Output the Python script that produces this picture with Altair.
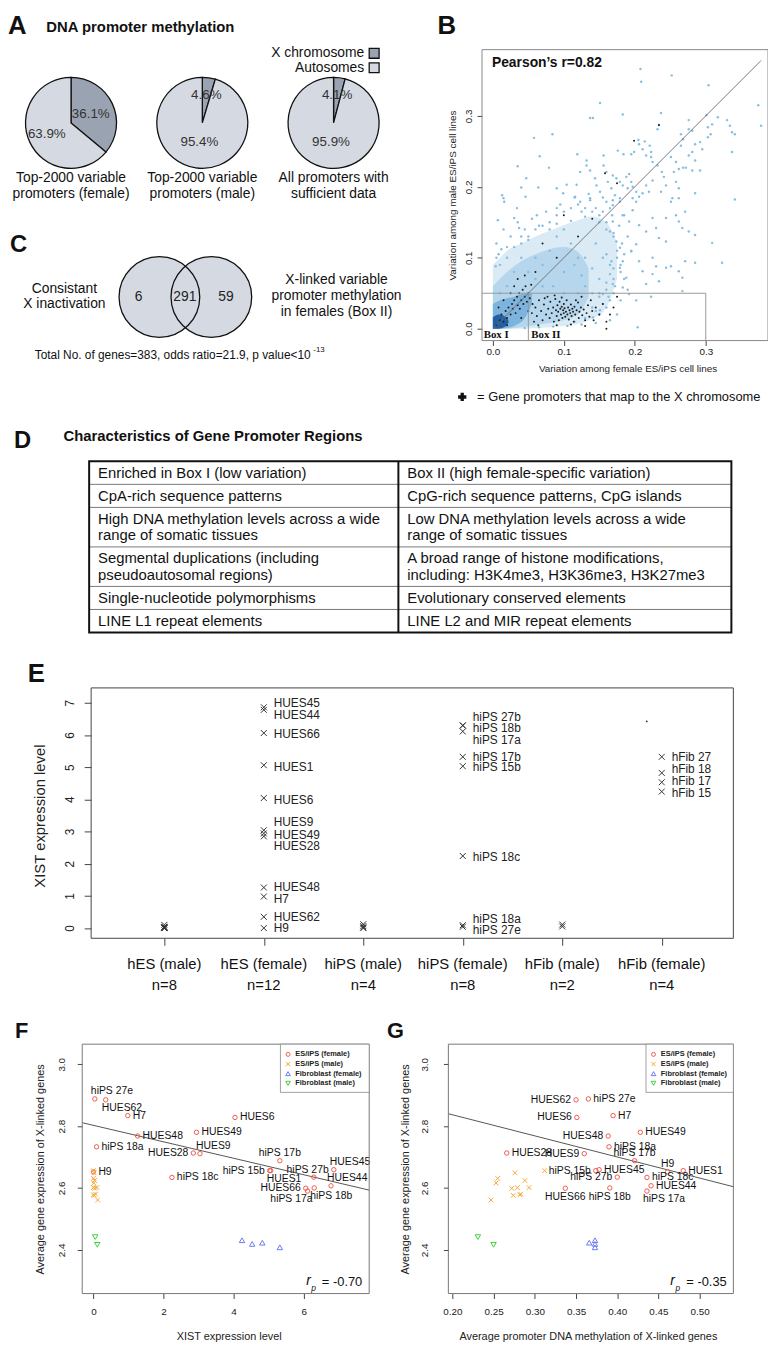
import altair as alt
import pandas as pd

FONT = "Liberation Sans"
SERIF = "Liberation Serif"
OFF = 8
W, H = 768, 1345


def R(v):
    return v - OFF


# ============================ DATA ============================
# --- Panel A: share of promoters on the X chromosome (%)
PARTS = ["X chromosome", "Autosomes"]
PART_COLORS = ["#9aa3b1", "#d5dae2"]
PIE_X_PCT = [36.1, 4.6, 4.1]
PIE_AUTO_PCT = [63.9, 95.4, 95.9]
PIE_CAPTION_TOP = ["Top-2000 variable", "Top-2000 variable", "All promoters with"]
PIE_CAPTION_BOTTOM = ["promoters (female)", "promoters (male)", "sufficient data"]

# --- Panel B: variation female (x) vs male (y)
B_PEARSON = 0.82
B_SPARSE = [
    (0.208, 0.366), (0.209, 0.348), (0.252, 0.357), (0.304, 0.343), (0.374, 0.315), (0.378, 0.286),
    (0.151, 0.318), (0.137, 0.297), (0.141, 0.297), (0.183, 0.302), (0.237, 0.304), (0.234, 0.287),
    (0.232, 0.281), (0.276, 0.294), (0.317, 0.298), (0.301, 0.301), (0.330, 0.294), (0.334, 0.286),
    (0.337, 0.277), (0.341, 0.274), (0.309, 0.288), (0.303, 0.284), (0.307, 0.274), (0.303, 0.270),
    (0.058, 0.269), (0.084, 0.274), (0.066, 0.243), (0.035, 0.229), (0.079, 0.227), (0.047, 0.212),
    (0.040, 0.199), (0.064, 0.199), (0.104, 0.203), (0.119, 0.246), (0.132, 0.237), (0.123, 0.221),
    (0.090, 0.198), (0.118, 0.203), (0.013, 0.188), (0.015, 0.184), (0.016, 0.179), (0.156, 0.244),
    (0.156, 0.230), (0.160, 0.221), (0.176, 0.251), (0.184, 0.246), (0.195, 0.246), (0.199, 0.249),
    (0.205, 0.266), (0.206, 0.260), (0.214, 0.264), (0.221, 0.258), (0.223, 0.249), (0.223, 0.242),
    (0.225, 0.235), (0.211, 0.253), (0.216, 0.244), (0.169, 0.216), (0.174, 0.212), (0.179, 0.207),
    (0.183, 0.202), (0.188, 0.214), (0.192, 0.218), (0.195, 0.207), (0.197, 0.200), (0.190, 0.198),
    (0.202, 0.193), (0.206, 0.186), (0.211, 0.191), (0.216, 0.202), (0.220, 0.193), (0.232, 0.230),
    (0.238, 0.221), (0.241, 0.214), (0.244, 0.202), (0.251, 0.242), (0.258, 0.235), (0.262, 0.225),
    (0.255, 0.221), (0.265, 0.274), (0.265, 0.258), (0.268, 0.267), (0.281, 0.279), (0.276, 0.281),
    (0.285, 0.260), (0.292, 0.263), (0.295, 0.253), (0.276, 0.244), (0.281, 0.249), (0.285, 0.237),
    (0.268, 0.227), (0.272, 0.227), (0.281, 0.223), (0.258, 0.207), (0.262, 0.198), (0.285, 0.191),
    (0.292, 0.223), (0.337, 0.249), (0.341, 0.182), (0.251, 0.179), (0.237, 0.193), (0.225, 0.209),
    (0.132, 0.230), (0.137, 0.223), (0.144, 0.212), (0.146, 0.202), (0.151, 0.193), (0.162, 0.207),
    (0.167, 0.198), (0.172, 0.188), (0.099, 0.191), (0.116, 0.186), (0.137, 0.181), (0.169, 0.181),
    (0.179, 0.179), (0.197, 0.184), (0.202, 0.179),
    (0.046, 0.186), (0.262, 0.184), (0.253, 0.184), (0.271, 0.165), (0.258, 0.160), (0.244, 0.156),
    (0.225, 0.156), (0.230, 0.142), (0.206, 0.146), (0.216, 0.137), (0.234, 0.128), (0.244, 0.123),
    (0.262, 0.151), (0.267, 0.142), (0.276, 0.137), (0.285, 0.132), (0.309, 0.121), (0.323, 0.093),
    (0.271, 0.095), (0.285, 0.093), (0.262, 0.081), (0.267, 0.072), (0.251, 0.088), (0.244, 0.086),
    (0.225, 0.100), (0.230, 0.088), (0.206, 0.095), (0.211, 0.081), (0.225, 0.077), (0.234, 0.067),
    (0.216, 0.063), (0.267, 0.053), (0.223, 0.045), (0.204, 0.002), (0.192, 0.049), (0.202, 0.040),
    (0.183, 0.058), (0.188, 0.072), (0.179, 0.086), (0.183, 0.095), (0.202, 0.119), (0.195, 0.109),
    (0.034, 0.170), (0.037, 0.142), (0.030, 0.156), (0.007, 0.153), (0.004, 0.088), (0.062, 0.160),
    (0.090, 0.170), (0.123, 0.179), (0.137, 0.184), (0.160, 0.179), (0.169, 0.174), (0.179, 0.184),
    (0.183, 0.160), (0.192, 0.151), (0.197, 0.167), (0.169, 0.151), (0.165, 0.137), (0.174, 0.123),
    (0.179, 0.114), (0.160, 0.105), (0.167, 0.095), (0.165, 0.077), (0.169, 0.063), (0.155, 0.049),
    (0.165, 0.040), (0.151, 0.026), (0.141, 0.016),
]
B_DENSE = [
    (0.010, 0.090), (0.020, 0.100), (0.030, 0.115), (0.040, 0.120), (0.050, 0.130), (0.060, 0.140),
    (0.070, 0.145), (0.080, 0.150), (0.090, 0.160), (0.100, 0.165), (0.110, 0.170), (0.120, 0.175),
    (0.130, 0.170), (0.140, 0.165), (0.150, 0.150), (0.160, 0.140), (0.170, 0.130), (0.175, 0.110),
    (0.180, 0.090), (0.170, 0.070), (0.160, 0.055), (0.150, 0.045), (0.140, 0.050), (0.130, 0.060),
    (0.125, 0.075), (0.120, 0.100), (0.110, 0.120), (0.100, 0.140), (0.090, 0.130), (0.080, 0.110),
    (0.070, 0.090), (0.060, 0.070), (0.050, 0.080), (0.040, 0.100), (0.030, 0.080), (0.020, 0.060),
    (0.010, 0.050), (0.085, 0.060), (0.100, 0.080), (0.115, 0.090), (0.130, 0.100), (0.145, 0.120),
    (0.155, 0.100), (0.140, 0.085), (0.165, 0.090), (0.150, 0.070), (0.170, 0.050), (0.180, 0.040),
    (0.160, 0.030), (0.150, 0.020), (0.120, 0.050), (0.100, 0.050), (0.070, 0.060), (0.060, 0.100),
    (0.045, 0.140), (0.025, 0.130), (0.035, 0.150), (0.055, 0.155), (0.075, 0.165), (0.095, 0.175),
    (0.115, 0.185), (0.135, 0.190), (0.155, 0.185), (0.165, 0.170), (0.185, 0.160), (0.190, 0.130),
    (0.195, 0.110), (0.005, 0.120), (0.015, 0.140), (0.008, 0.105), (0.185, 0.070), (0.190, 0.055),
    (0.175, 0.020), (0.165, 0.012), (0.145, 0.008), (0.125, 0.006), (0.105, 0.004), (0.085, 0.003),
    (0.065, 0.002), (0.045, 0.001),
    (0.020, 0.115), (0.050, 0.125), (0.080, 0.140), (0.110, 0.152), (0.130, 0.158), (0.150, 0.160),
    (0.160, 0.150), (0.170, 0.135), (0.175, 0.100), (0.170, 0.085), (0.160, 0.065), (0.150, 0.050),
    (0.140, 0.030), (0.130, 0.015), (0.115, 0.010), (0.005, 0.100), (0.012, 0.112), (0.040, 0.130),
    (0.065, 0.145), (0.090, 0.148), (0.125, 0.165), (0.145, 0.170), (0.155, 0.165), (0.168, 0.160),
    (0.178, 0.145), (0.182, 0.120), (0.185, 0.105), (0.180, 0.080), (0.172, 0.060), (0.163, 0.045),
    (0.155, 0.035), (0.145, 0.025),
]
B_XCHR = [
    (0.060, 0.030), (0.062, 0.018), (0.065, 0.040), (0.068, 0.025), (0.070, 0.012), (0.072, 0.034),
    (0.075, 0.020), (0.077, 0.045), (0.078, 0.028), (0.080, 0.015), (0.081, 0.038), (0.083, 0.022),
    (0.085, 0.030), (0.086, 0.010), (0.088, 0.042), (0.089, 0.026), (0.090, 0.018), (0.091, 0.033),
    (0.092, 0.024), (0.093, 0.012), (0.094, 0.038), (0.095, 0.028), (0.096, 0.020), (0.097, 0.031),
    (0.098, 0.015), (0.099, 0.026), (0.100, 0.022), (0.100, 0.035), (0.101, 0.029), (0.102, 0.017),
    (0.103, 0.024), (0.104, 0.040), (0.105, 0.020), (0.106, 0.030), (0.107, 0.013), (0.108, 0.026),
    (0.109, 0.022), (0.110, 0.034), (0.111, 0.018), (0.112, 0.028), (0.113, 0.024), (0.114, 0.010),
    (0.115, 0.031), (0.116, 0.020), (0.118, 0.026), (0.120, 0.037), (0.121, 0.015), (0.122, 0.024),
    (0.124, 0.030), (0.126, 0.019), (0.128, 0.027), (0.130, 0.012), (0.132, 0.022), (0.134, 0.033),
    (0.136, 0.017), (0.140, 0.025), (0.142, 0.012), (0.145, 0.030), (0.150, 0.020), (0.055, 0.022),
    (0.058, 0.010), (0.064, 0.005), (0.073, 0.043), (0.087, 0.047), (0.097, 0.044), (0.117, 0.040),
    (0.125, 0.045), (0.138, 0.040), (0.155, 0.035), (0.160, 0.010), (0.170, 0.030), (0.175, 0.045),
    (0.165, 0.020), (0.090, 0.005), (0.110, 0.006), (0.130, 0.004),
    (0.005, 0.005), (0.010, 0.012), (0.012, 0.020), (0.015, 0.010), (0.018, 0.025), (0.020, 0.015),
    (0.022, 0.030), (0.025, 0.020), (0.027, 0.035), (0.028, 0.028), (0.030, 0.040), (0.032, 0.022),
    (0.034, 0.045), (0.035, 0.033), (0.037, 0.050), (0.038, 0.028), (0.040, 0.040), (0.042, 0.055),
    (0.043, 0.035), (0.045, 0.045), (0.046, 0.060), (0.048, 0.038), (0.050, 0.050), (0.052, 0.043),
    (0.054, 0.062), (0.056, 0.035), (0.030, 0.060), (0.025, 0.050), (0.035, 0.070), (0.045, 0.075),
    (0.060, 0.080), (0.015, 0.040), (0.020, 0.005), (0.040, 0.015), (0.008, 0.030), (0.050, 0.025),
    (0.199, 0.265), (0.158, 0.219), (0.234, 0.287), (0.175, 0.205), (0.120, 0.130), (0.090, 0.100),
    (0.140, 0.155), (0.100, 0.160), (0.070, 0.120), (0.160, 0.000),
]
# density envelope of the crowded cloud: x, lower y, upper y
B_CLOUD_OUTER = ([0.000, 0.010, 0.020, 0.040, 0.060, 0.080, 0.100, 0.120, 0.140, 0.160, 0.175],
                 [0.000, 0.000, 0.000, 0.000, 0.001, 0.002, 0.004, 0.007, 0.014, 0.030, 0.070],
                 [0.090, 0.100, 0.110, 0.120, 0.130, 0.138, 0.146, 0.153, 0.158, 0.150, 0.120])
B_CLOUD_INNER = ([0.000, 0.020, 0.040, 0.060, 0.080, 0.100, 0.120, 0.135],
                 [0.000, 0.000, 0.002, 0.005, 0.008, 0.012, 0.020, 0.045],
                 [0.060, 0.080, 0.095, 0.105, 0.112, 0.115, 0.108, 0.085])
B_CLOUD_CORE = ([0.000, 0.010, 0.020, 0.030, 0.045, 0.055],
                [0.000, 0.000, 0.001, 0.004, 0.015, 0.035],
                [0.035, 0.040, 0.043, 0.045, 0.050, 0.050])
B_CLOUD_PEAK = ([0.000, 0.008, 0.016, 0.022],
                [0.000, 0.000, 0.002, 0.008],
                [0.016, 0.020, 0.018, 0.012])
B_DIAG = [0.0, 0.378]
B_BOX_TOP = 0.05
B_BOX_RIGHT = [0.05, 0.30]
B_BOX_NAMES = ["Box  I", "Box  II"]
B_BOX_LABEL_X = [-0.013, 0.054]

# --- Panel C: Venn
VENN_COUNTS = [6, 291, 59]
VENN_COUNT_POS = [-0.40, 0.49, 1.28]
VENN_LEFT_LABEL = ["Consistant", "X inactivation"]
VENN_RIGHT_LABEL = ["X-linked variable", "promoter methylation", "in females (Box II)"]
TOTAL_GENES = 383
ODDS_RATIO = 21.9
P_EXPONENT = -13

# --- Panel D: table
D_TITLE = "Characteristics of Gene Promoter Regions"
D_LEFT = [["Enriched in Box I (low variation)"],
          ["CpA-rich sequence patterns"],
          ["High DNA methylation levels across a wide", "range of somatic tissues"],
          ["Segmental duplications (including", "pseudoautosomal regions)"],
          ["Single-nucleotide polymorphisms"],
          ["LINE L1 repeat elements"]]
D_RIGHT = [["Box II (high female-specific variation)"],
           ["CpG-rich sequence patterns, CpG islands"],
           ["Low DNA methylation levels across a wide", "range of somatic tissues"],
           ["A broad range of histone modifications,", "including: H3K4me3, H3K36me3, H3K27me3"],
           ["Evolutionary conserved elements"],
           ["LINE L2 and MIR repeat elements"]]
D_COL_SPLIT = 0.4815

# --- Panels E, F, G
E_GROUPS = ["hES (male)", "hES (female)", "hiPS (male)", "hiPS (female)", "hFib (male)", "hFib (female)"]
E_N = [8, 12, 4, 8, 2, 4]

FEMALE_NAMES = ["hiPS 27e", "HUES62", "H7", "HUES6", "HUES49", "HUES48", "hiPS 18a", "HUES28", "HUES9",
                "hiPS 17b", "hiPS 15b", "HUES1", "HUES45", "hiPS 27b", "HUES44", "hiPS 18c", "H9",
                "HUES66", "hiPS 17a", "hiPS 18b"]
FEMALE_XIST = [0.04, 0.35, 0.98, 4.04, 2.94, 1.26, 0.09, 2.85, 3.04, 5.32, 5.03, 5.06, 6.86, 6.29, 6.78,
               2.24, 0.00, 6.06, 6.11, 6.30]
FEMALE_EXPR = [2.888, 2.885, 2.834, 2.828, 2.780, 2.768, 2.733, 2.713, 2.711, 2.688, 2.656, 2.656, 2.659,
               2.635, 2.607, 2.634, 2.652, 2.599, 2.590, 2.600]
FEMALE_METH = [0.365, 0.350, 0.395, 0.351, 0.428, 0.389, 0.390, 0.266, 0.360, 0.421, 0.374, 0.480, 0.378,
               0.400, 0.441, 0.436, 0.461, 0.337, 0.436, 0.391]
E_LABEL_Y = [-0.07, 0.34, 0.90, 3.99, 2.90, 1.28, 0.29, 2.56, 3.28, 5.32, 5.00, 5.00, 7.00, 6.56, 6.63,
             2.20, 0.00, 6.02, 5.84, 6.20]
F_LABEL_POS = ["tr", "br", "r", "r", "r", "r", "r", "l", "tr", "t", "l", "br", "tr", "tl", "tr", "r", "r",
               "l", "bl", "br"]
G_LABEL_POS = ["r", "l", "r", "l", "r", "l", "r", "r", "l", "t", "l", "r", "r", "l", "r", "r", "t", "b",
               "br", "b"]

MALE_XIST = [0.00, 0.02, 0.00, 0.03, 0.01, 0.10, 0.00, 0.04, 0.06, 0.00, 0.02, 0.12]  # 8 hES + 4 hiPS
MALE_EXPR = [2.656, 2.649, 2.631, 2.624, 2.616, 2.601, 2.601, 2.599, 2.580, 2.578, 2.576, 2.561]
MALE_METH = [0.312, 0.276, 0.255, 0.288, 0.253, 0.279, 0.293, 0.272, 0.283, 0.282, 0.274, 0.247]

FIBF_NAMES = ["hFib 27", "hFib 18", "hFib 17", "hFib 15"]
FIBF_XIST = [5.32, 4.82, 4.53, 4.24]
FIBF_EXPR = [2.408, 2.423, 2.419, 2.431]
FIBF_METH = [0.373, 0.366, 0.373, 0.373]
FIBF_LABEL_Y = [5.30, 4.94, 4.57, 4.18]

FIBM_XIST = [0.05, 0.11]
FIBM_EXPR = [2.441, 2.416]
FIBM_METH = [0.231, 0.250]

E_STRAY = (5.85, 6.42)

F_FIT_X = [-0.32, 7.87]
F_FIT_Y = [2.811, 2.593]
G_FIT_X = [0.1952, 0.5408]
G_FIT_Y = [2.840, 2.604]
F_RP = -0.70
G_RP = -0.35
LEGEND_LABELS = ["ES/iPS (female)", "ES/iPS (male)", "Fibroblast (female)", "Fibroblast (male)"]

# ============================ HELPERS ============================
XSHAPE = "M-1,-1L1,1M-1,1L1,-1"
RED, ORANGE, BLUE, GREEN = "#ef5a4f", "#f5a83a", "#6a7bf2", "#3fcf3f"


def lin(domain, r0, r1):
    return alt.Scale(domain=domain, range=[R(r0), R(r1)], nice=False, zero=False)


def txt(text, x, y, size=12, weight="normal", align="left", baseline="middle", font=FONT,
        color="#111", style="normal"):
    return alt.Chart(pd.DataFrame({"t": [text]})).mark_text(
        align=align, baseline=baseline, fontSize=size, fontWeight=weight, font=font,
        color=color, fontStyle=style
    ).encode(x=alt.value(R(x)), y=alt.value(R(y)), text="t:N")


AX = dict(domain=False, grid=False, labelFlush=False, labelOverlap=False, minExtent=0,
          tickColor="#444", labelColor="#222", titleColor="#222", titleFontWeight="normal",
          labelFont=FONT, titleFont=FONT, titleAlign="center", titleBaseline="middle")


def xaxis(bottom, values, fmt, title, title_x, title_y, tick=5, pad=6, lsize=10, tsize=11):
    return alt.Axis(orient="bottom", offset=R(bottom) - H, values=values, format=fmt, title=title,
                    titleX=R(title_x), titleY=title_y - bottom, tickSize=tick, labelPadding=pad,
                    labelFontSize=lsize, titleFontSize=tsize, labelBaseline="middle", **AX)


def yaxis(left, values, fmt, title, title_x, title_y, tick=5, pad=9, lsize=10, tsize=11):
    return alt.Axis(orient="left", offset=-R(left), values=values, format=fmt, title=title,
                    titleX=title_x - left, titleY=R(title_y), titleAngle=270, tickSize=tick,
                    labelPadding=pad, labelFontSize=lsize, titleFontSize=tsize, labelAngle=270,
                    labelAlign="center", labelBaseline="middle", **AX)


def frame(XS, YS, xd, yd, xax, yax, color="#666", width=1.0):
    df = pd.DataFrame({"x0": [xd[0]], "x1": [xd[1]], "y0": [yd[0]], "y1": [yd[1]]})
    return alt.Chart(df).mark_rect(fillOpacity=0, stroke=color, strokeWidth=width).encode(
        x=alt.X("x0:Q", scale=XS, axis=xax), x2="x1",
        y=alt.Y("y0:Q", scale=YS, axis=yax), y2="y1")


def pts_df(pairs):
    return pd.DataFrame({"x": [p[0] for p in pairs], "y": [p[1] for p in pairs]})


layers = []

# ============================ PANEL A ============================
A_X = lin([0, 2], 71.7, 337)
A_Y = lin([0, 1], 117, 17)
THETA = alt.Scale(domain=[0, 100])
pie_rows = []
for i, (xp, ap) in enumerate(zip(PIE_X_PCT, PIE_AUTO_PCT)):
    pie_rows.append({"pie": i, "row": 0, "part": PARTS[0], "pct": xp, "ord": 0})
    pie_rows.append({"pie": i, "row": 0, "part": PARTS[1], "pct": ap, "ord": 1})
pie_df = pd.DataFrame(pie_rows)

label_radius = {0: (22, 27), 1: (28, 20), 2: (28, 20)}
for i in range(3):
    layers.append(
        alt.Chart(pie_df).transform_filter(alt.datum.pie == i)
        .mark_arc(outerRadius=46, stroke="#111", strokeWidth=1.3)
        .encode(x=alt.X("pie:Q", scale=A_X, axis=None),
                y=alt.Y("row:Q", scale=A_Y, axis=None),
                theta=alt.Theta("pct:Q", stack=True, scale=THETA),
                order=alt.Order("ord:Q"),
                color=alt.Color("part:N", scale=alt.Scale(domain=PARTS, range=PART_COLORS), legend=None))
    )
    for k in range(2):
        layers.append(
            alt.Chart(pie_df).transform_filter(alt.datum.pie == i)
            .transform_stack(stack="pct", groupby=["pie"], as_=["s0", "s1"], sort=[alt.SortField("ord")])
            .transform_calculate(mid="(datum.s0 + datum.s1) / 2",
                                 label="format(datum.pct, '.1f') + '%'")
            .transform_filter(alt.datum.ord == k)
            .mark_text(radius=label_radius[i][k], fontSize=13.5, color="#333")
            .encode(x=alt.X("pie:Q", scale=A_X, axis=None),
                    y=alt.Y("row:Q", scale=A_Y, axis=None),
                    theta=alt.Theta("mid:Q", scale=THETA, stack=False),
                    text="label:N")
        )
cap_df = pd.DataFrame({"pie": [0, 1, 2], "top": PIE_CAPTION_TOP, "bot": PIE_CAPTION_BOTTOM})
for col, yy in [("top", 172.7), ("bot", 189.3)]:
    layers.append(alt.Chart(cap_df).mark_text(fontSize=14, color="#111", align="center").encode(
        x=alt.X("pie:Q", scale=A_X, axis=None), y=alt.value(R(yy)), text=f"{col}:N"))
for k, (part, col) in enumerate(zip(PARTS, PART_COLORS)):
    yy = [46.7, 61.3][k]
    layers.append(alt.Chart(pd.DataFrame({"p": [part]})).mark_square(
        size=100, color=col, stroke="#111", strokeWidth=1.3, opacity=1).encode(
        x=alt.value(R(378)), y=alt.value(R(yy))))
    layers.append(txt(part, 368, yy, size=14, align="right"))
layers.append(txt("A", 8, 27, size=26, weight="bold", baseline="alphabetic"))
layers.append(txt("DNA promoter methylation", 46.7, 20, size=15, weight="bold"))

# ============================ PANEL B ============================
B_XD = [-0.0153, 0.3877]
B_YD = [-0.0167, 0.3933]
B_X = lin(B_XD, 487, 776)
B_Y = lin(B_YD, 337, 43)
for (cx, lo, hi), col, op in [(B_CLOUD_OUTER, "#b5d7ee", 0.5), (B_CLOUD_INNER, "#9cc8e6", 0.6),
                              (B_CLOUD_CORE, "#6aa8d8", 0.75), (B_CLOUD_PEAK, "#1f5c9f", 0.95)]:
    layers.append(alt.Chart(pd.DataFrame({"x": cx, "lo": lo, "hi": hi})).mark_area(
        color=col, opacity=op, interpolate="monotone").encode(
        x=alt.X("x:Q", scale=B_X, axis=None), y=alt.Y("lo:Q", scale=B_Y, axis=None), y2="hi"))
layers.append(alt.Chart(pts_df(B_SPARSE + B_DENSE)).mark_circle(size=6, color="#86bde0", opacity=1).encode(
    x=alt.X("x:Q", scale=B_X, axis=None), y=alt.Y("y:Q", scale=B_Y, axis=None)))
layers.append(alt.Chart(pts_df(B_XCHR)).mark_circle(size=4, color="#1a1a1a", opacity=1).encode(
    x=alt.X("x:Q", scale=B_X, axis=None), y=alt.Y("y:Q", scale=B_Y, axis=None)))
layers.append(alt.Chart(pd.DataFrame({"x": B_DIAG, "y": B_DIAG})).mark_line(color="#6a6a6a", strokeWidth=0.9).encode(
    x=alt.X("x:Q", scale=B_X, axis=None), y=alt.Y("y:Q", scale=B_Y, axis=None)))
box_df = pd.DataFrame({
    "x0": [B_XD[0], B_BOX_RIGHT[0], B_BOX_RIGHT[1]],
    "x1": [B_BOX_RIGHT[1], B_BOX_RIGHT[0], B_BOX_RIGHT[1]],
    "y0": [B_BOX_TOP, B_YD[0], B_YD[0]],
    "y1": [B_BOX_TOP, B_BOX_TOP, B_BOX_TOP]})
layers.append(alt.Chart(box_df).mark_rule(color="#999", strokeWidth=1).encode(
    x=alt.X("x0:Q", scale=B_X, axis=None), x2="x1", y=alt.Y("y0:Q", scale=B_Y, axis=None), y2="y1"))
layers.append(alt.Chart(pd.DataFrame({"x": B_BOX_LABEL_X, "y": [B_YD[0]] * 2, "t": B_BOX_NAMES})).mark_text(
    font=SERIF, fontWeight="bold", fontSize=11, align="left", baseline="bottom", dy=-1, color="#111").encode(
    x=alt.X("x:Q", scale=B_X, axis=None), y=alt.Y("y:Q", scale=B_Y, axis=None), text="t:N"))
layers.append(frame(
    B_X, B_Y, B_XD, B_YD,
    xaxis(337, [0, 0.1, 0.2, 0.3], ".1f", "Variation among female ES/iPS cell lines", 634, 365,
          tick=5, pad=6, lsize=10, tsize=10),
    yaxis(487, [0, 0.1, 0.2, 0.3], ".1f", "Variation among male ES/iPS cell lines", 457, 190,
          tick=5, pad=9, lsize=10, tsize=10),
    color="#888"))
layers.append(txt(f"Pearson\u2019s r={B_PEARSON:.2f}", 497, 56.7, size=14, weight="bold"))
layers.append(alt.Chart(pd.DataFrame({"a": [0]})).mark_point(shape="cross", filled=True, size=70, color="#111", opacity=1).encode(
    x=alt.value(R(467)), y=alt.value(R(394))))
layers.append(txt("= Gene promoters that map to the X chromosome", 482, 394, size=13))
layers.append(txt("B", 442, 27, size=26, weight="bold", baseline="alphabetic"))

# ============================ PANEL C ============================
C_X = lin([0, 1], 161, 213.5)
C_Y = lin([0, 1], 293, 253)
venn = pd.DataFrame({"x": [0, 1], "y": [0, 0]})
layers.append(alt.Chart(venn).mark_circle(size=6648, color="#d5dae2", opacity=1).encode(
    x=alt.X("x:Q", scale=C_X, axis=None), y=alt.Y("y:Q", scale=C_Y, axis=None)))
layers.append(alt.Chart(venn).mark_point(shape="circle", size=6648, filled=False, color="#111", strokeWidth=1.3, opacity=1).encode(
    x=alt.X("x:Q", scale=C_X, axis=None), y=alt.Y("y:Q", scale=C_Y, axis=None)))
layers.append(alt.Chart(pd.DataFrame({"x": VENN_COUNT_POS, "y": [0, 0, 0], "n": VENN_COUNTS})).mark_text(
    fontSize=14, color="#222").encode(
    x=alt.X("x:Q", scale=C_X, axis=None), y=alt.Y("y:Q", scale=C_Y, axis=None), text="n:N"))
for k, line in enumerate(VENN_LEFT_LABEL):
    layers.append(txt(line, 65, 285 + 15.5 * k, size=14, align="center"))
for k, line in enumerate(VENN_RIGHT_LABEL):
    layers.append(txt(line, 340, 276 + 16 * k, size=14, align="center"))
layers.append(txt(f"Total No. of genes={TOTAL_GENES}, odds ratio={ODDS_RATIO}, p value<10", 35, 352, size=12))
layers.append(txt(f"{P_EXPONENT}", 316.5, 346.5, size=8))
layers.append(txt("C", 10, 247, size=24, weight="bold", baseline="alphabetic"))

# ============================ PANEL D ============================
row_units = [len(r) + 0.4 for r in D_LEFT]
bounds = [0.0]
for u in row_units:
    bounds.append(bounds[-1] + u)
D_X = lin([0, 1], 90, 739)
D_Y = lin([0, bounds[-1]], 459, 632)
layers.append(alt.Chart(pd.DataFrame({"y": bounds[1:-1], "x0": 0, "x1": 1})).mark_rule(color="#777", strokeWidth=1).encode(
    x=alt.X("x0:Q", scale=D_X, axis=None), x2="x1", y=alt.Y("y:Q", scale=D_Y, axis=None)))
layers.append(alt.Chart(pd.DataFrame({"x": [D_COL_SPLIT], "y0": [0], "y1": [bounds[-1]]})).mark_rule(color="#111", strokeWidth=2).encode(
    x=alt.X("x:Q", scale=D_X, axis=None), y=alt.Y("y0:Q", scale=D_Y, axis=None), y2="y1"))
layers.append(alt.Chart(pd.DataFrame({"x0": [0], "x1": [1], "y0": [0], "y1": [bounds[-1]]})).mark_rect(
    fillOpacity=0, stroke="#111", strokeWidth=2).encode(
    x=alt.X("x0:Q", scale=D_X, axis=None), x2="x1", y=alt.Y("y0:Q", scale=D_Y, axis=None), y2="y1"))
cells = []
for i, (lrow, rrow) in enumerate(zip(D_LEFT, D_RIGHT)):
    for col_x, rows in [(0.0, lrow), (D_COL_SPLIT, rrow)]:
        for k, line in enumerate(rows):
            cells.append({"x": col_x, "y": bounds[i] + 0.2 + 0.5 + k, "t": line})
layers.append(alt.Chart(pd.DataFrame(cells)).mark_text(align="left", dx=9, fontSize=15, color="#111").encode(
    x=alt.X("x:Q", scale=D_X, axis=None), y=alt.Y("y:Q", scale=D_Y, axis=None), text="t:N"))
layers.append(txt(D_TITLE, 64, 433, size=15, weight="bold"))
layers.append(txt("D", 14, 446, size=24, weight="bold", baseline="alphabetic"))

# ============================ PANEL E ============================
E_XD = [0.264, 6.72]
E_YD = [-0.317, 7.461]
E_X = lin(E_XD, 92, 741)
E_Y = lin(E_YD, 941, 688)
e_rows = []
for v in MALE_XIST[:8]:
    e_rows.append({"pos": 1, "v": v})
for n, v in zip(FEMALE_NAMES, FEMALE_XIST):
    e_rows.append({"pos": 4 if n.startswith("hiPS") else 2, "v": v})
for v in MALE_XIST[8:]:
    e_rows.append({"pos": 3, "v": v})
for v in FIBM_XIST:
    e_rows.append({"pos": 5, "v": v})
for v in FIBF_XIST:
    e_rows.append({"pos": 6, "v": v})
layers.append(alt.Chart(pd.DataFrame(e_rows)).mark_point(shape=XSHAPE, filled=False, size=36, color="#333", strokeWidth=1, opacity=1).encode(
    x=alt.X("pos:Q", scale=E_X, axis=None), y=alt.Y("v:Q", scale=E_Y, axis=None)))
e_lab = pd.DataFrame({
    "pos": [4 if n.startswith("hiPS") else 2 for n in FEMALE_NAMES] + [6] * 4,
    "ly": E_LABEL_Y + FIBF_LABEL_Y,
    "t": FEMALE_NAMES + FIBF_NAMES})
layers.append(alt.Chart(e_lab).mark_text(align="left", dx=10, fontSize=12, color="#222").encode(
    x=alt.X("pos:Q", scale=E_X, axis=None), y=alt.Y("ly:Q", scale=E_Y, axis=None), text="t:N"))
layers.append(alt.Chart(pd.DataFrame({"x": [E_STRAY[0]], "y": [E_STRAY[1]]})).mark_circle(size=3, color="#333", opacity=1).encode(
    x=alt.X("x:Q", scale=E_X, axis=None), y=alt.Y("y:Q", scale=E_Y, axis=None)))
layers.append(frame(
    E_X, E_Y, E_XD, E_YD,
    alt.Axis(orient="bottom", offset=R(941) - H, values=[1, 2, 3, 4, 5, 6], labels=False, title="",
             tickSize=7, **{k: v for k, v in AX.items() if k not in ("titleAlign", "titleBaseline")}),
    yaxis(92, [0, 1, 2, 3, 4, 5, 6, 7], "d", "XIST expression level", 40, 817, tick=7, pad=15,
          lsize=12, tsize=15),
    color="#444"))
grp = pd.DataFrame({"pos": [1, 2, 3, 4, 5, 6], "g": E_GROUPS, "n": [f"n={n}" for n in E_N]})
for col, yy in [("g", 967), ("n", 988)]:
    layers.append(alt.Chart(grp).mark_text(fontSize=15, color="#111", align="center").encode(
        x=alt.X("pos:Q", scale=E_X, axis=None), y=alt.value(R(yy)), text=f"{col}:N"))
layers.append(txt("E", 28, 682, size=26, weight="bold", baseline="alphabetic"))

# ============================ PANELS F & G ============================
POS_STYLE = {"r": ("left", 5, 0), "l": ("right", -5, 0), "t": ("center", 0, -8), "b": ("center", 0, 9),
             "tr": ("left", -4, -8), "tl": ("right", 15, -7), "br": ("left", -4, 8), "bl": ("right", 5, 8)}
FG_YD = [2.2585, 3.065]


def scatter_panel(XS, YS, fem_x, male_x, fibf_x, fibm_x, pos):
    out = []
    fdf = pd.DataFrame({"x": fem_x, "y": FEMALE_EXPR, "name": FEMALE_NAMES, "pos": pos})
    groups = [(fdf, "circle", RED, 20),
              (pd.DataFrame({"x": male_x, "y": MALE_EXPR}), XSHAPE, ORANGE, 22),
              (pd.DataFrame({"x": fibf_x, "y": FIBF_EXPR}), "triangle-up", BLUE, 30),
              (pd.DataFrame({"x": fibm_x, "y": FIBM_EXPR}), "triangle-down", GREEN, 30)]
    for df, shp, col, sz in groups:
        out.append(alt.Chart(df).mark_point(shape=shp, filled=False, color=col, size=sz, strokeWidth=1, opacity=1).encode(
            x=alt.X("x:Q", scale=XS, axis=None), y=alt.Y("y:Q", scale=YS, axis=None)))
    for code, (al, dx, dy) in POS_STYLE.items():
        out.append(alt.Chart(fdf).transform_filter(alt.datum.pos == code).mark_text(
            align=al, dx=dx, dy=dy, baseline="middle", fontSize=10.5, color="#111").encode(
            x=alt.X("x:Q", scale=XS, axis=None), y=alt.Y("y:Q", scale=YS, axis=None), text="name:N"))
    return out


def legend_box(x0, x1, sym_x, text_x):
    out = [alt.Chart(pd.DataFrame({"a": [0]})).mark_rect(fill="white", stroke="#888", strokeWidth=0.8).encode(
        x=alt.value(R(x0)), x2=alt.value(R(x1)), y=alt.value(R(1048)), y2=alt.value(R(1096.7)))]
    styles = [("circle", RED, 16), (XSHAPE, ORANGE, 18), ("triangle-up", BLUE, 22), ("triangle-down", GREEN, 22)]
    for k, (lab, (shp, col, sz)) in enumerate(zip(LEGEND_LABELS, styles)):
        yy = 1058.3 + 9.75 * k
        out.append(alt.Chart(pd.DataFrame({"a": [0]})).mark_point(shape=shp, filled=False, color=col, size=sz, strokeWidth=1, opacity=1).encode(
            x=alt.value(R(sym_x)), y=alt.value(R(yy))))
        out.append(txt(lab, text_x, yy, size=7.5, weight="bold", color="#222"))
    return out


# F
F_XD = [-0.32, 7.87]
F_X = lin(F_XD, 83, 373)
F_Y = lin(FG_YD, 1300, 1048)
layers.append(alt.Chart(pd.DataFrame({"x": F_FIT_X, "y": F_FIT_Y})).mark_line(color="#555", strokeWidth=1).encode(
    x=alt.X("x:Q", scale=F_X, axis=None), y=alt.Y("y:Q", scale=F_Y, axis=None)))
layers += scatter_panel(F_X, F_Y, FEMALE_XIST, MALE_XIST, FIBF_XIST, FIBM_XIST, F_LABEL_POS)
layers.append(frame(
    F_X, F_Y, F_XD, FG_YD,
    xaxis(1300, [0, 2, 4, 6], "d", "XIST expression level", 231, 1343, tick=5, pad=12.7, lsize=10, tsize=11),
    yaxis(83, [2.4, 2.6, 2.8, 3.0], ".1f", "Average gene expression of X-linked genes", 41, 1174,
          tick=5, pad=16.3, lsize=10, tsize=11),
    color="#777"))
layers += legend_box(283.3, 373, 291, 298.3)
layers.append(txt(f"= {F_RP:.2f}", 366, 1288, size=13, align="right"))
layers.append(txt("r", 314, 1287, size=14, align="right", style="italic"))
layers.append(txt("p", 314.5, 1294.5, size=8.5, style="italic"))
layers.append(txt("F", 15, 1042, size=22, weight="bold", baseline="alphabetic"))

# G
G_XD = [0.1952, 0.5408]
G_X = lin(G_XD, 453, 741)
G_Y = lin(FG_YD, 1300, 1048)
layers.append(alt.Chart(pd.DataFrame({"x": G_FIT_X, "y": G_FIT_Y})).mark_line(color="#555", strokeWidth=1).encode(
    x=alt.X("x:Q", scale=G_X, axis=None), y=alt.Y("y:Q", scale=G_Y, axis=None)))
layers += scatter_panel(G_X, G_Y, FEMALE_METH, MALE_METH, FIBF_METH, FIBM_METH, G_LABEL_POS)
layers.append(frame(
    G_X, G_Y, G_XD, FG_YD,
    xaxis(1300, [0.20, 0.25, 0.30, 0.35, 0.40, 0.45, 0.50], ".2f",
          "Average promoter DNA methylation of X-linked genes", 594, 1343, tick=5, pad=12.7, lsize=10, tsize=11),
    yaxis(453, [2.4, 2.6, 2.8, 3.0], ".1f", "Average gene expression of X-linked genes", 409.3, 1174,
          tick=5, pad=19.3, lsize=10, tsize=11),
    color="#777"))
layers += legend_box(652.7, 741, 660.3, 667.7)
layers.append(txt(f"= {G_RP:.2f}", 734.3, 1288, size=13, align="right"))
layers.append(txt("r", 682, 1287, size=14, align="right", style="italic"))
layers.append(txt("p", 682.5, 1294.5, size=8.5, style="italic"))
layers.append(txt("G", 391, 1042, size=22, weight="bold", baseline="alphabetic"))

# ============================ COMPOSE ============================
chart = (
    alt.layer(*layers)
    .properties(width=W, height=H, padding=0, autosize=alt.AutoSizeParams(type="none"))
    .resolve_scale(x="independent", y="independent")
    .resolve_axis(x="independent", y="independent")
    .configure(font=FONT)
    .configure_view(stroke="transparent")
)
chart.save("out.html", embed_options={"renderer": "svg", "actions": False})
